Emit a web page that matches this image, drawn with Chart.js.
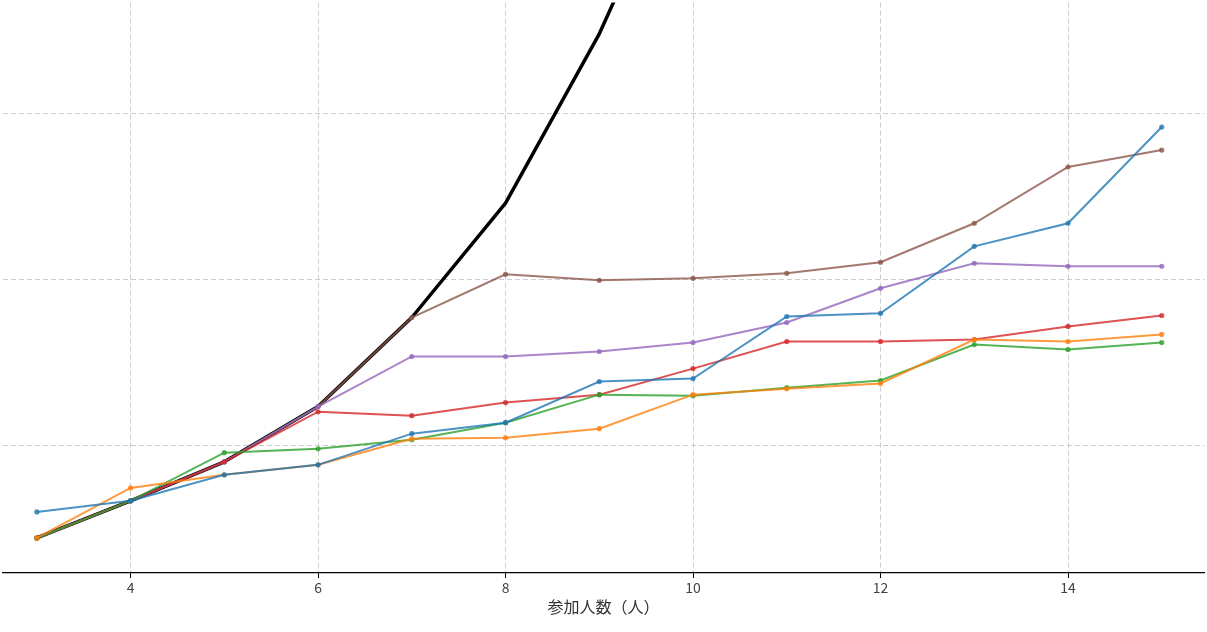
<!DOCTYPE html>
<html>
<head>
<meta charset="utf-8">
<script src="https://cdn.jsdelivr.net/npm/chart.js@4"></script>
<style>
  html, body { margin: 0; padding: 0; background: #fff; }
  #wrap { width: 1207px; height: 632px; }
</style>
</head>
<body>
<div id="wrap"><canvas id="chart"></canvas></div>
<script>
// x: participants
const participants = [3, 4, 5, 6, 7, 8, 9, 10, 11, 12, 13, 14, 15];
const xTicks = [4, 6, 8, 10, 12, 14];
const yGrid = [10, 20, 30];

// series values
const seriesBlue   = [6.01, 6.68, 8.25, 8.85, 10.73, 11.39, 13.87, 14.05, 17.79, 17.98, 22.02, 23.41, 29.21];
const seriesOrange = [4.44, 7.46, 8.25, 8.85, 10.42, 10.48, 11.03, 13.08, 13.44, 13.75, 16.40, 16.28, 16.71];
const seriesGreen  = [4.44, 6.68, 9.58, 9.82, 10.36, 11.39, 13.08, 13.02, 13.50, 13.93, 16.10, 15.80, 16.22];
const seriesRed    = [4.44, 6.68, 9.03, 12.05, 11.81, 12.60, 13.08, 14.65, 16.28, 16.28, 16.40, 17.19, 17.85];
const seriesPurple = [4.44, 6.68, 9.03, 12.36, 15.38, 15.38, 15.68, 16.22, 17.43, 19.49, 21.00, 20.82, 20.82];
const seriesBrown  = [4.44, 6.68, 9.03, 12.36, 17.73, 20.33, 19.97, 20.09, 20.39, 21.06, 23.41, 26.80, 27.82];
const seriesBlack  = [4.44, 6.68, 9.03, 12.36, 17.73, 24.62, 34.83, 47.30];

function pts(vals) {
    return vals.map((v, i) => ({ x: participants[i], y: v }));
}

function colored(data, color) {
    return {
        data: pts(data),
        borderColor: color,
        backgroundColor: color,
        borderWidth: 2,
        pointRadius: 2.6,
        pointHoverRadius: 2.6,
        pointBorderWidth: 0
    };
}

const datasets = [
    colored(seriesBlue, 'rgba(31,119,180,0.8)'),
    colored(seriesOrange, 'rgba(255,127,14,0.8)'),
    colored(seriesGreen, 'rgba(44,160,44,0.8)'),
    colored(seriesRed, 'rgba(214,39,40,0.8)'),
    colored(seriesPurple, 'rgba(148,103,189,0.8)'),
    colored(seriesBrown, 'rgba(140,86,75,0.8)'),
    {
        data: pts(seriesBlack),
        borderColor: '#000',
        backgroundColor: '#000',
        borderWidth: 3.5,
        pointRadius: 0,
        borderJoinStyle: 'round',
        borderCapStyle: 'round'
    }
];

new Chart(document.getElementById('chart'), {
    type: 'line',
    data: { datasets: datasets },
    options: {
        responsive: true,
        maintainAspectRatio: false,
        animation: false,
        layout: { padding: { left: 0, right: 0, top: 0, bottom: 15 } },
        plugins: {
            legend: { display: false },
            tooltip: { enabled: false }
        },
        scales: {
            x: {
                type: 'linear',
                min: 2.635,
                max: 15.455,
                afterBuildTicks: s => { s.ticks = xTicks.map(v => ({ value: v })); },
                afterFit: s => { s.height = 44; },
                border: { display: true, color: '#000', width: 1.2 },
                grid: {
                    color: '#cccccc',
                    lineWidth: 1,
                    tickColor: '#000',
                    tickLength: 5,
                    tickBorderDash: [],
                    drawTicks: true
                },
                ticks: {
                    color: '#444',
                    padding: 1,
                    font: { family: '"Noto Sans CJK JP"', size: 14 },
                    maxRotation: 0
                },
                title: {
                    display: true,
                    text: '参加人数（人）',
                    color: '#333',
                    padding: { top: 2, bottom: 0 },
                    font: { family: '"Noto Sans CJK JP"', size: 16 }
                }
            },
            y: {
                type: 'linear',
                min: 2.33,
                max: 36.71,
                afterBuildTicks: s => { s.ticks = yGrid.map(v => ({ value: v })); },
                afterFit: s => { s.width = 0; },
                border: { display: false },
                grid: { color: '#cccccc', lineWidth: 1, drawTicks: false },
                ticks: { display: false }
            }
        }
    },
    plugins: [{
        id: 'dashGrid',
        beforeDraw: chart => {
            ['x', 'y'].forEach(k => {
                chart.options.scales[k].border.dash = [5, 3];
            });
        }
    }]
});
</script>
</body>
</html>
